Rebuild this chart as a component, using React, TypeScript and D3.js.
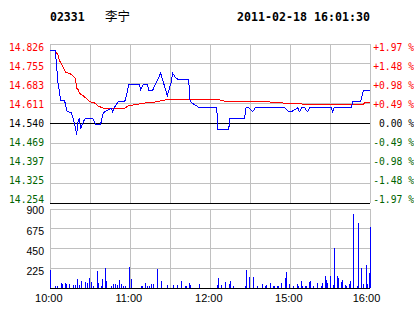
import React from "react";
import * as d3 from "d3";

const stockCode = "02331";
const stockName = "李宁";
const stamp = "2011-02-18 16:01:30";

const prevClose = 14.54;
const leftLabels = ["14.826", "14.755", "14.683", "14.611", "14.540", "14.469", "14.397", "14.325", "14.254"];
const rightLabels = ["+1.97 %", "+1.48 %", "+0.98 %", "+0.49 %", "0.00 %", "-0.49 %", "-0.98 %", "-1.48 %", "-1.97 %"];
const volTicks = [225, 450, 675, 900];
const xTickTimes = ["10:00", "11:00", "12:00", "15:00", "16:00"];

const priceTimes = ["10:00","10:04","10:06","10:07","10:08","10:11","10:12","10:13","10:16","10:18","10:19","10:20","10:21","10:22","10:23","10:24","10:26","10:32","10:34","10:38","10:40","10:43","10:46","10:47","10:48","10:51","10:56","10:58","10:59","11:07","11:08","11:10","11:13","11:14","11:17","11:20","11:23","11:28","11:31","11:32","11:34","11:36","11:44","11:45","11:46","11:50","11:52","12:05","12:06","12:14","12:15","12:26","12:27","12:29","14:32","14:34","14:56","14:59","15:01","15:06","15:07","15:09","15:11","15:13","15:15","15:31","15:32","15:33","15:46","15:47","15:53","15:55","16:00"];
const priceValues = [14.801,14.801,14.685,14.660,14.621,14.621,14.600,14.582,14.580,14.546,14.528,14.499,14.546,14.559,14.519,14.535,14.556,14.559,14.538,14.538,14.579,14.588,14.595,14.582,14.595,14.618,14.618,14.654,14.682,14.682,14.663,14.681,14.681,14.660,14.660,14.690,14.721,14.640,14.690,14.721,14.706,14.699,14.699,14.625,14.615,14.603,14.597,14.597,14.519,14.519,14.559,14.559,14.597,14.597,14.582,14.597,14.597,14.582,14.582,14.597,14.582,14.597,14.597,14.582,14.597,14.597,14.582,14.597,14.597,14.618,14.618,14.658,14.658];

const avgTimes = ["10:00","10:04","10:06","10:07","10:09","10:11","10:12","10:16","10:18","10:19","10:20","10:21","10:22","10:24","10:27","10:30","10:34","10:36","10:40","10:56","10:59","11:10","11:20","11:25","11:34","12:05","12:10","12:26","14:54","14:55","15:14","15:55","15:56","16:00"];
const avgValues = [14.801,14.801,14.786,14.768,14.750,14.732,14.724,14.717,14.708,14.703,14.667,14.663,14.649,14.643,14.631,14.618,14.613,14.603,14.595,14.595,14.604,14.613,14.618,14.624,14.628,14.628,14.621,14.618,14.617,14.613,14.609,14.609,14.615,14.616];

const volTimes = ["10:00","10:04","10:05","10:08","10:09","10:11","10:12","10:14","10:17","10:19","10:20","10:22","10:23","10:26","10:28","10:29","10:31","10:32","10:35","10:36","10:38","10:39","10:41","10:42","10:46","10:47","10:49","10:50","10:52","10:53","10:55","10:56","10:59","11:01","11:08","11:09","11:11","11:13","11:14","11:16","11:17","11:20","11:23","11:28","11:32","11:35","11:38","11:41","11:42","11:44","11:45","11:52","12:05","12:06","12:08","12:11","12:14","12:15","12:17","12:26","12:27","12:29","14:32","14:35","14:39","14:41","14:42","14:45","14:47","14:48","14:50","14:51","14:53","14:56","14:57","14:59","15:02","15:05","15:06","15:08","15:09","15:11","15:12","15:14","15:15","15:17","15:20","15:23","15:24","15:26","15:27","15:28","15:30","15:32","15:33","15:35","15:36","15:38","15:39","15:41","15:42","15:44","15:45","15:47","15:50","15:51","15:53","15:55","15:57","15:58","15:59","16:00"];
const volValues = [205,23,23,57,49,57,49,46,34,34,103,34,80,68,57,114,68,23,194,57,23,103,228,80,23,46,46,34,91,46,23,23,240,103,23,23,57,23,23,46,46,217,80,34,34,34,80,23,23,57,34,46,34,114,34,68,46,80,23,23,205,125,125,23,46,23,34,57,23,23,23,23,57,114,182,46,23,46,23,80,23,23,23,68,80,23,57,23,57,137,91,57,137,34,456,137,114,68,91,34,23,46,80,844,23,741,228,46,262,46,171,695];

function toIndex(t: string): number {
  const [h, m] = t.split(":").map(Number);
  const mins = h * 60 + m;
  return mins <= 750 ? mins - 600 : mins - 870 + 150;
}

const L = 50, R = 370, PT = 44, PB = 203, VT = 209, VB = 288;
const GRID = "#c0c0c0";
const RED = "#ff0000";
const GREEN = "#006400";
const BLUE = "#0000ff";
const MONO = "'DejaVu Sans Mono', monospace";
const SANS = "'Liberation Sans', Arial, sans-serif";

export default function App() {
  const x = d3.scaleLinear().domain([0, 240]).range([L, R]);
  const y = d3.scaleLinear().domain([14.254, 14.826]).range([PB, PT]);
  const yLab = d3.scaleLinear().domain([0, 8]).range([PT + 3.5, PB - 3.5]);
  const yv = d3.scaleLinear().domain([0, 900]).range([VB, VT]);
  const step = (14.826 - prevClose) / 4;
  const levels = d3.range(9).map((i) => 14.826 - i * step);
  const vGrid = d3.range(0, 241, 30);

  const line = d3
    .line<[string, number]>()
    .x((d) => x(toIndex(d[0])))
    .y((d) => y(d[1]));
  const pricePath = line(priceTimes.map((t, i) => [t, priceValues[i]]))!;
  const avgPath = line(avgTimes.map((t, i) => [t, avgValues[i]]))!;

  return (
    <svg
      width={414}
      height={314}
      style={{ position: "fixed", left: 0, top: 0, background: "#fff" }}
    >
      <rect x={0} y={0} width={414} height={314} fill="#fff" />
      <g fontFamily={MONO} fontWeight="bold" fontSize={11.5} fill="#000">
        <text x={50} y={21}>{stockCode}</text>
        <text x={237} y={21} textLength={133} lengthAdjust="spacingAndGlyphs">{stamp}</text>
      </g>
      <text x={105} y={21} fontFamily="'Noto Sans CJK SC', sans-serif" fontSize={12.5}>{stockName}</text>

      {/* main grid */}
      <g shapeRendering="crispEdges">
        {levels.map((v, i) => (
          <line key={"h" + i} x1={L} x2={R} y1={y(v)} y2={y(v)}
            stroke={i === 4 || i === 8 ? "#000" : GRID} strokeWidth={1} />
        ))}
        {vGrid.map((m) => (
          <line key={"v" + m} x1={x(m)} x2={x(m)} y1={PT} y2={PB} stroke={GRID} />
        ))}
        {volTicks.map((v) => (
          <line key={"vh" + v} x1={L} x2={R} y1={yv(v)} y2={yv(v)} stroke={GRID} />
        ))}
        {vGrid.map((m) => (
          <line key={"vv" + m} x1={x(m)} x2={x(m)} y1={VT} y2={VB} stroke={GRID} />
        ))}
        <line x1={L} x2={R} y1={VB} y2={VB} stroke="#000" />
        <line x1={L} x2={R} y1={y(14.254)} y2={y(14.254)} stroke="#000" />
        <line x1={L} x2={R} y1={y(prevClose)} y2={y(prevClose)} stroke="#000" />
      </g>

      {/* volume bars */}
      <g shapeRendering="crispEdges">
        {volTimes.map((t, i) => (
          <rect key={t} x={Math.round(x(toIndex(t)))} y={yv(volValues[i])} width={1.2}
            height={VB - yv(volValues[i])} fill={BLUE} />
        ))}
      </g>

      {/* lines */}
      <path d={avgPath} fill="none" stroke={RED} strokeWidth={1} shapeRendering="crispEdges" />
      <path d={pricePath} fill="none" stroke={BLUE} strokeWidth={1} shapeRendering="crispEdges" />

      {/* left labels */}
      <g fontFamily={MONO} fontSize={9.7}>
        {leftLabels.map((s, i) => (
          <text key={s} x={44} y={yLab(i)} textAnchor="end" dominantBaseline="central"
            fill={i < 4 ? RED : i === 4 ? "#000" : GREEN}>{s}</text>
        ))}
        {rightLabels.map((s, i) => (
          <text key={s} x={414} y={yLab(i)} textAnchor="end" dominantBaseline="central"
            fill={i < 4 ? RED : i === 4 ? "#000" : GREEN}>{s}</text>
        ))}
      </g>

      {/* volume labels */}
      <g fontFamily={SANS} fontSize={10.5} fill="#000">
        {volTicks.map((v, i) => (
          <text key={v} x={44} y={yv(v) + 3.2 - i * 0.6} textAnchor="end" dominantBaseline="central">{v}</text>
        ))}
      </g>

      {/* x labels */}
      <g fontFamily={SANS} fontSize={11} fill="#000">
        {xTickTimes.map((t, i) => (
          <text key={t} x={x(i * 60) - (i === 4 ? 3.5 : 1.2)} y={297.5} textAnchor="middle" dominantBaseline="central">{t}</text>
        ))}
      </g>
    </svg>
  );
}
